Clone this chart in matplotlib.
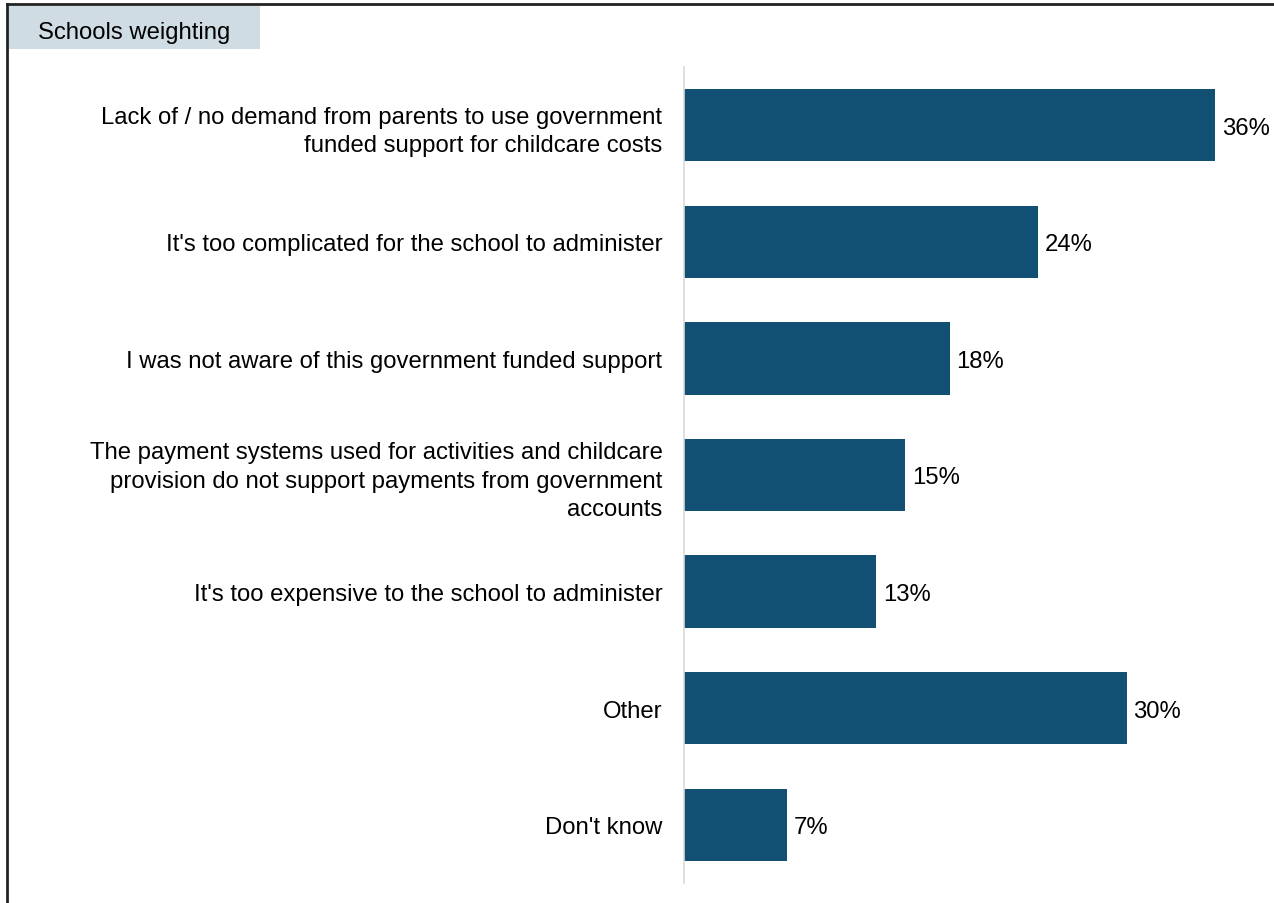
import matplotlib
matplotlib.use("Agg")
import matplotlib.pyplot as plt
from matplotlib.patches import Rectangle
from matplotlib.lines import Line2D

plt.rcParams["font.family"] = ["Liberation Sans", "DejaVu Sans"]

# Reasons schools give for not accepting government funded childcare support
categories = [
    "Lack of / no demand from parents to use government\nfunded support for childcare costs",
    "It's too complicated for the school to administer",
    "I was not aware of this government funded support",
    "The payment systems used for activities and childcare\nprovision do not support payments from government\naccounts",
    "It's too expensive to the school to administer",
    "Other",
    "Don't know",
]
values = [36, 24, 18, 15, 13, 30, 7]
panel_title = "Schools weighting"

bar_color = "#114f73"
fs = 17.2
W, H = 1274, 904

fig = plt.figure(figsize=(W / 100, H / 100), dpi=100)
ax = fig.add_axes([684 / W, 20 / H, 590 / W, 816 / H])

y = range(len(categories))
ax.barh(y, values, height=0.62, color=bar_color)
for yi, v in zip(y, values):
    ax.text(v + 0.47, yi, f"{v}%", va="center_baseline", ha="left", fontsize=fs)

ax.set_xlim(0, 40)
ax.set_ylim(len(categories) - 0.5, -0.5)
ax.set_yticks(list(y))
ax.set_yticklabels(categories, fontsize=fs, ha="right", linespacing=1.36)
ax.tick_params(axis="y", length=0, pad=15.5)
ax.set_xticks([])
for side in ["top", "right", "bottom"]:
    ax.spines[side].set_visible(False)
ax.spines["left"].set_color("#d9d9d9")
ax.spines["left"].set_linewidth(1.2)

# frame lines along top and left edge
fig.add_artist(Line2D([7 / W, 1], [1 - 5 / H, 1 - 5 / H], color="#222222", lw=2))
fig.add_artist(Line2D([7 / W, 7 / W], [0, 1 - 5 / H], color="#222222", lw=2))

# panel label box
fig.add_artist(Rectangle((9 / W, 1 - 50 / H), 251 / W, 43 / H,
                         facecolor="#d0dce4", edgecolor="none"))
fig.text(38 / W, 1 - 30 / H, panel_title, fontsize=fs, va="center_baseline", ha="left")

fig.savefig("out.png", dpi=100)
